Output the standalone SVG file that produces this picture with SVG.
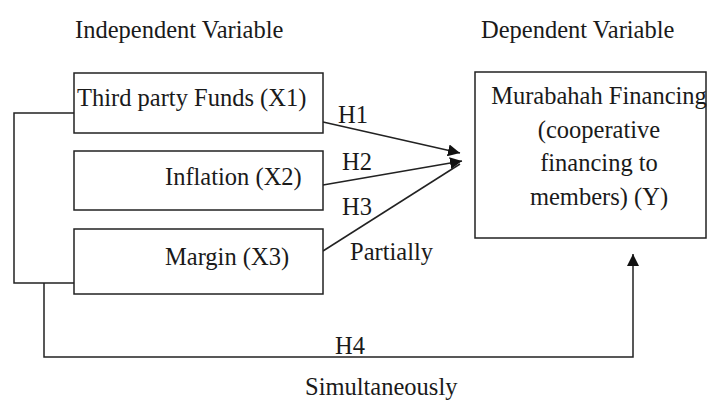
<svg xmlns="http://www.w3.org/2000/svg" width="711" height="408" viewBox="0 0 711 408">
  <style>
    text { font-family: "Liberation Serif", "Times New Roman", serif; font-size: 24.5px; fill: #1a1a1a; }
    .box { fill: #ffffff; stroke: #222; stroke-width: 1.5; }
    .ln { fill: none; stroke: #222; stroke-width: 1.5; }
    .mid { text-anchor: middle; }
  </style>
  <defs>
    <marker id="ah" viewBox="0 0 10 10" refX="10" refY="5" markerWidth="12" markerHeight="12" markerUnits="userSpaceOnUse" orient="auto">
      <path d="M0,0 L10,5 L0,10 z" fill="#111"/>
    </marker>
  </defs>

  <text x="75" y="38">Independent Variable</text>
  <text x="481" y="38">Dependent Variable</text>

  <g id="connectors">
    <line class="ln" x1="323" y1="122" x2="460" y2="153" marker-end="url(#ah)"/>
    <line class="ln" x1="323" y1="185" x2="462" y2="161" marker-end="url(#ah)"/>
    <line class="ln" x1="323" y1="251" x2="460" y2="164"/>
    <polyline class="ln" points="74,113 14,113 14,283 76,283"/>
    <polyline class="ln" points="44,283 44,357 633,357 633,254" marker-end="url(#ah)"/>
    <text x="338" y="123">H1</text>
    <text x="342" y="170">H2</text>
    <text x="342" y="215">H3</text>
    <text x="350" y="260">Partially</text>
    <text x="335" y="354">H4</text>
    <text x="305" y="395">Simultaneously</text>
  </g>

  <g id="x1">
    <rect class="box" x="74" y="73" width="249" height="60"/>
    <text x="77" y="106">Third party Funds (X1)</text>
  </g>
  <g id="x2">
    <rect class="box" x="74" y="151" width="249" height="59"/>
    <text x="165" y="185">Inflation (X2)</text>
  </g>
  <g id="x3">
    <rect class="box" x="74" y="229" width="249" height="65"/>
    <text x="165" y="265">Margin (X3)</text>
  </g>
  <g id="y">
    <rect class="box" x="475" y="72" width="231" height="166"/>
    <text class="mid" x="599" y="104">Murabahah Financing</text>
    <text class="mid" x="599" y="138">(cooperative</text>
    <text class="mid" x="599" y="171">financing to</text>
    <text class="mid" x="599" y="205">members) (Y)</text>
  </g>
</svg>
